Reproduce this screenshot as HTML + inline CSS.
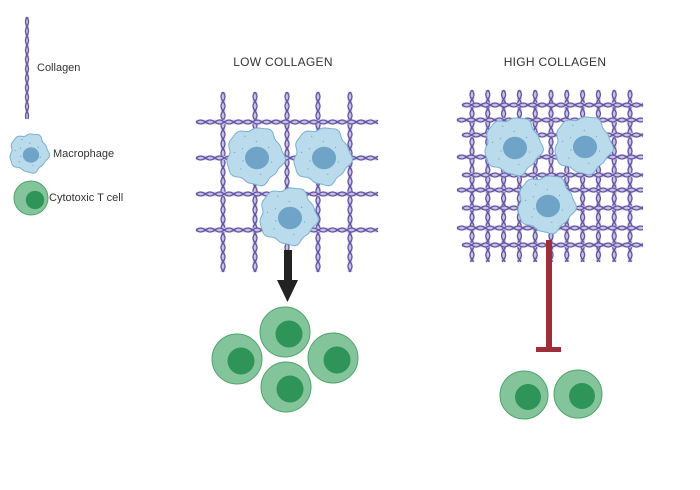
<!DOCTYPE html>
<html><head><meta charset="utf-8"><style>
html,body{margin:0;padding:0;background:#fff;}
svg{display:block;}
text{font-family:"Liberation Sans",sans-serif;fill:#333;}
</style></head><body>
<svg id="s" width="700" height="490" viewBox="0 0 700 490" xmlns="http://www.w3.org/2000/svg">
<text x="37" y="71" font-size="11">Collagen</text>
<text x="53" y="157" font-size="11">Macrophage</text>
<text x="49" y="201" font-size="11">Cytotoxic T cell</text>
<text x="283" y="66" font-size="12" text-anchor="middle" letter-spacing="0.3">LOW COLLAGEN</text>
<text x="555" y="66" font-size="12" text-anchor="middle" letter-spacing="0.3">HIGH COLLAGEN</text>
<g id="fib"></g>
<g id="cells"></g>
</svg>
<script>
var NS="http://www.w3.org/2000/svg";
function el(p,t,a){var e=document.createElementNS(NS,t);for(var k in a)e.setAttribute(k,a[k]);p.appendChild(e);return e;}
var fib=document.getElementById('fib'),cells=document.getElementById('cells');
function fiber(x1,y1,x2,y2,w){
  var dx=x2-x1,dy=y2-y1,L=Math.hypot(dx,dy),ux=dx/L,uy=dy/L,nx=-uy,ny=ux;
  el(fib,'line',{x1:x1,y1:y1,x2:x2,y2:y2,stroke:'#c8c2e2','stroke-width':w+0.5});
  for(var ph=0;ph<2;ph++){var d='';
    for(var s=0;s<=L;s+=1){var o=Math.sin(s/3+ph*Math.PI)*w/2;
      d+=(s?'L':'M')+(x1+ux*s+nx*o).toFixed(1)+' '+(y1+uy*s+ny*o).toFixed(1);}
    el(fib,'path',{d:d,fill:'none',stroke:'#6454a2','stroke-width':1.3});}
}
fiber(27,17,27,119,3);
[223,255,287,318,350].forEach(function(x){fiber(x,92,x,272,4);});
[122,158,194,230].forEach(function(y){fiber(196,y,378,y,4);});
for(var i=0;i<11;i++){var x=472+i*15.8;fiber(x,90,x,262,4);}
[105,120,135,157,175,190,208,228,245].forEach(function(y,i){fiber(i%2?457:462,y,643,y,4);});
function mac(cx,cy,r){
  var d='';for(var i=0;i<=60;i++){var a=i/60*Math.PI*2;var rr=r*(1+0.07*Math.sin(a*5+1)+0.03*Math.sin(a*11));
    d+=(i?'L':'M')+(cx+Math.cos(a)*rr).toFixed(1)+' '+(cy+Math.sin(a)*rr).toFixed(1);}
  el(cells,'path',{d:d+'Z',fill:'#b9dbec',stroke:'#7db0d0','stroke-width':1});
  for(var j=0;j<14;j++){var a=j*2.4,q=r*(0.3+0.55*((j*37)%10)/10);
    el(cells,'circle',{cx:cx+Math.cos(a)*q,cy:cy+Math.sin(a)*q,r:0.6,fill:'#6f9fc4'});}
  el(cells,'ellipse',{cx:cx+2,cy:cy+2,rx:r*0.43,ry:r*0.4,fill:'#6fa3c7'});
}
function tc(cx,cy,r){
  el(cells,'circle',{cx:cx,cy:cy,r:r,fill:'#84c49a',stroke:'#4fa46c','stroke-width':1});
  el(cells,'circle',{cx:cx+4,cy:cy+2,r:r*0.54,fill:'#2e9458'});
}
mac(29,153,19); tc(31,198,17);
mac(255,156,28); mac(322,156,28); mac(288,216,28);
mac(513,146,28); mac(583,145,28); mac(546,204,28);
el(cells,'rect',{x:284,y:250,width:8,height:32,fill:'#222'});
el(cells,'path',{d:'M277 280 L298 280 L287.5 302 Z',fill:'#222'});
el(cells,'rect',{x:546,y:240,width:6,height:110,fill:'#9e2f3a'});
el(cells,'rect',{x:536,y:347,width:25,height:5,fill:'#9e2f3a'});
tc(285,332,25); tc(237,359,25); tc(333,358,25); tc(286,387,25);
tc(524,395,24); tc(578,394,24);
</script>
</body></html>
